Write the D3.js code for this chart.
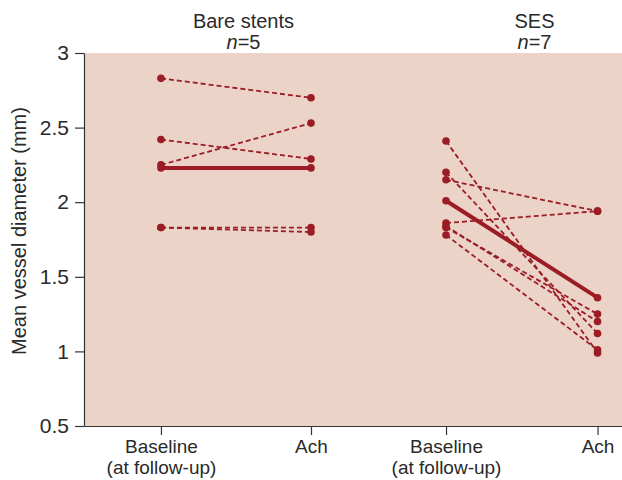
<!DOCTYPE html>
<html>
<head>
<meta charset="utf-8">
<script src="https://cdn.jsdelivr.net/npm/d3@7"></script>
<style>
  body { margin: 0; background: #fff; }
  svg { display: block; font-family: "Liberation Sans", Arial, sans-serif; }
  .axis path, .axis line { stroke: #333; stroke-width: 1.2; }
  .axis text { fill: #2a2a2a; font-size: 21px; }
</style>
</head>
<body>
<div id="chart"></div>
<script>
// Values
const categories = ['Baseline\n(at follow-up)', 'Ach', 'Baseline\n(at follow-up)', 'Ach'];
const xSlots = [1, 2, 2.9, 3.91];
const yTicks = [0.5, 1, 1.5, 2, 2.5, 3];

const groupNames = ['Bare stents', 'SES'];
const groupN = [5, 7];

// Bare stents: baseline -> Ach, one entry per vessel
const bareBaseline = [2.83, 2.42, 2.25, 1.83, 1.83];
const bareAch = [2.70, 2.29, 2.53, 1.83, 1.80];
const bareMean = [2.23, 2.23];

// SES: baseline -> Ach
const sesBaseline = [2.41, 2.20, 2.15, 1.86, 1.84, 1.83, 1.78];
const sesAch = [0.99, 1.12, 1.94, 1.94, 1.20, 1.25, 1.01];
const sesMean = [2.01, 1.36];

const width = 622, height = 480;
const margin = { top: 53, right: 0, bottom: 54, left: 84 };
const innerW = width - margin.left - margin.right;
const innerH = height - margin.top - margin.bottom;

const red = '#9b1c24';
const bg = '#ebd3c8';

const svg = d3.select('#chart').append('svg')
    .attr('width', width)
    .attr('height', height);

const g = svg.append('g')
    .attr('transform', `translate(${margin.left},${margin.top})`);

const x = d3.scaleLinear().domain([0.487, 4.073]).range([0, innerW]);
const y = d3.scaleLinear().domain([0.5, 3]).range([innerH, 0]);

// Plot background
g.append('rect')
    .attr('width', innerW)
    .attr('height', innerH)
    .attr('fill', bg);

// Build pairs for each group
const groups = [
    { name: groupNames[0], n: groupN[0], slots: [xSlots[0], xSlots[1]], base: bareBaseline, ach: bareAch, mean: bareMean, titleX: 1.55 },
    { name: groupNames[1], n: groupN[1], slots: [xSlots[2], xSlots[3]], base: sesBaseline, ach: sesAch, mean: sesMean, titleX: 3.49 }
];

groups.forEach(grp => {
    const pairs = grp.base.map((b, i) => [b, grp.ach[i]]);

    // Individual vessels (dashed)
    g.selectAll(null)
        .data(pairs)
        .enter().append('line')
        .attr('x1', x(grp.slots[0]))
        .attr('x2', x(grp.slots[1]))
        .attr('y1', d => y(d[0]))
        .attr('y2', d => y(d[1]))
        .attr('stroke', red)
        .attr('stroke-width', 1.8)
        .attr('stroke-dasharray', '5,3');

    // Mean (solid, thick)
    g.append('line')
        .attr('x1', x(grp.slots[0]))
        .attr('x2', x(grp.slots[1]))
        .attr('y1', y(grp.mean[0]))
        .attr('y2', y(grp.mean[1]))
        .attr('stroke', red)
        .attr('stroke-width', 4);

    // Dots
    const dots = [];
    pairs.forEach(p => {
        dots.push([grp.slots[0], p[0]]);
        dots.push([grp.slots[1], p[1]]);
    });
    dots.push([grp.slots[0], grp.mean[0]]);
    dots.push([grp.slots[1], grp.mean[1]]);

    g.selectAll(null)
        .data(dots)
        .enter().append('circle')
        .attr('cx', d => x(d[0]))
        .attr('cy', d => y(d[1]))
        .attr('r', 3.8)
        .attr('fill', red);

    // Group titles
    const title = svg.append('text')
        .attr('x', margin.left + x(grp.titleX))
        .attr('text-anchor', 'middle')
        .style('font-size', '20px')
        .style('fill', '#2a2a2a');
    title.append('tspan')
        .attr('x', margin.left + x(grp.titleX))
        .attr('y', 28)
        .text(grp.name);
    const sub = title.append('tspan')
        .attr('x', margin.left + x(grp.titleX))
        .attr('y', 49);
    sub.append('tspan').style('font-style', 'italic').text('n');
    sub.append('tspan').text('=' + grp.n);
});

// Y axis
g.append('g')
    .attr('class', 'axis')
    .call(d3.axisLeft(y)
        .tickValues(yTicks)
        .tickFormat(d3.format('~g'))
        .tickSize(9)
        .tickSizeOuter(0)
        .tickPadding(6));

// X axis
const xAxis = g.append('g')
    .attr('class', 'axis')
    .attr('transform', `translate(0,${innerH})`)
    .call(d3.axisBottom(x)
        .tickValues(xSlots)
        .tickFormat('')
        .tickSize(9)
        .tickSizeOuter(0));

xAxis.selectAll('.tick').each(function(d, i) {
    const lines = categories[i].split('\n');
    lines.forEach((l, k) => {
        d3.select(this).append('text')
            .attr('text-anchor', 'middle')
            .style('font-size', '19px')
            .attr('fill', '#2a2a2a')
            .attr('x', 0)
            .attr('y', 27 + k * 21)
            .text(l);
    });
});

// Y axis label
svg.append('text')
    .attr('transform', `translate(26,${231}) rotate(-90)`)
    .attr('text-anchor', 'middle')
    .style('font-size', '20px')
    .style('fill', '#2a2a2a')
    .text('Mean vessel diameter (mm)');
</script>
</body>
</html>
